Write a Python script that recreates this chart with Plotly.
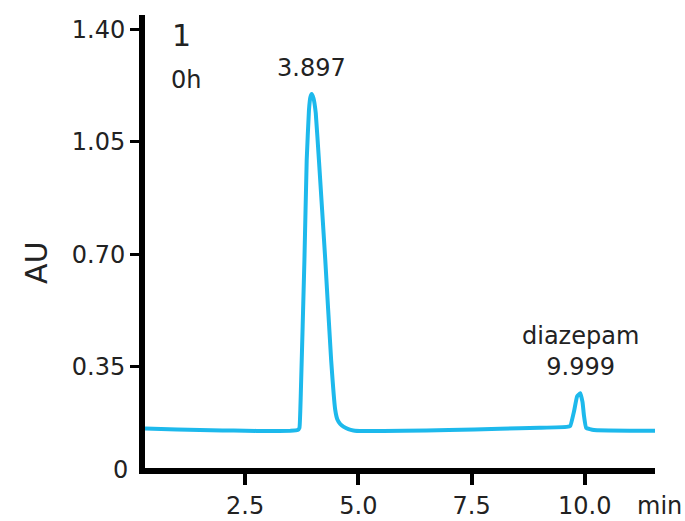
import plotly.graph_objects as go

# Chromatogram trace (retention time in min, absorbance in AU)
time_min = [0.29, 1.0, 2.0, 2.5, 3.0, 3.5, 3.66, 3.70, 3.73, 3.81, 3.86, 3.91, 3.94, 3.97, 4.01,
            4.06, 4.13, 4.27, 4.40, 4.49, 4.54, 4.60, 4.67, 4.78, 4.89, 5.1, 6.0, 7.0, 8.13,
            9.0, 9.6, 9.68, 9.76, 9.83, 9.90, 9.95, 9.98, 10.03, 10.2, 11.0, 11.55]
absorb = [0.158, 0.155, 0.152, 0.151, 0.150, 0.151, 0.153, 0.160, 0.267, 0.683, 0.993, 1.149, 1.188, 1.199, 1.186,
          1.140, 0.993, 0.683, 0.371, 0.216, 0.185, 0.172, 0.164, 0.156, 0.152, 0.150, 0.151, 0.153, 0.157,
          0.160, 0.163, 0.166, 0.21, 0.258, 0.268, 0.24, 0.20, 0.160, 0.153, 0.151, 0.151]

peak_times = [3.97, 9.90]
peak_heights = [1.199, 0.268]
peak_labels = ["3.897", "diazepam<br>9.999"]

x_ticks = [2.5, 5.0, 7.5, 10.0]
x_ticktext = ["2.5", "5.0", "7.5", "10.0"]
y_ticks = [0.35, 0.70, 1.05, 1.40]
y_ticktext = ["0.35", "0.70", "1.05", "1.40"]

FONT = "DejaVu Sans"
TXT = "#222222"

fig = go.Figure()
fig.add_trace(go.Scatter(x=time_min, y=absorb, mode="lines",
                         line=dict(color="#1DB9EC", width=4, shape="spline", smoothing=0.3),
                         hoverinfo="skip", showlegend=False))

for t, h, lab in zip(peak_times, peak_heights, peak_labels):
    fig.add_annotation(x=t, y=h, xref="x", yref="y", text=lab, showarrow=False,
                       xanchor="center", yanchor="bottom", yshift=10,
                       font=dict(family=FONT, size=24, color=TXT))

def note(x, y, text, size=24, **kw):
    fig.add_annotation(x=x, y=y, xref="paper", yref="paper", text=text, showarrow=False,
                       xanchor=kw.pop("xanchor", "center"), yanchor=kw.pop("yanchor", "middle"),
                       font=dict(family=FONT, size=size, color=TXT), **kw)

note(0.0706, 0.954, "1", size=30)
note(0.081, 0.857, "0h")
note(-0.214, 0.4525, "AU", size=30, textangle=-90)
note(0, 0, "0", xanchor="right", xshift=-15, yshift=-2)
note(1.0098, 0, "min", yshift=-38)

fig.update_layout(
    template="none",
    width=685, height=521,
    margin=dict(l=145, r=30, t=15, b=53),
    paper_bgcolor="white", plot_bgcolor="white",
    xaxis=dict(range=[0.29, 11.55], tickvals=x_ticks, ticktext=x_ticktext,
               showline=True, linecolor="black", linewidth=6, automargin=False,
               ticks="outside", ticklen=11, tickwidth=4, tickcolor="black",
               showgrid=False, zeroline=False,
               tickfont=dict(family=FONT, size=24, color=TXT)),
    yaxis=dict(range=[0.035, 1.445], tickvals=y_ticks, ticktext=y_ticktext,
               showline=True, linecolor="black", linewidth=6, automargin=False,
               ticks="outside", ticklen=9, tickwidth=3, tickcolor="black",
               showgrid=False, zeroline=False,
               tickfont=dict(family=FONT, size=24, color=TXT)),
)

fig.write_html("out.html")
